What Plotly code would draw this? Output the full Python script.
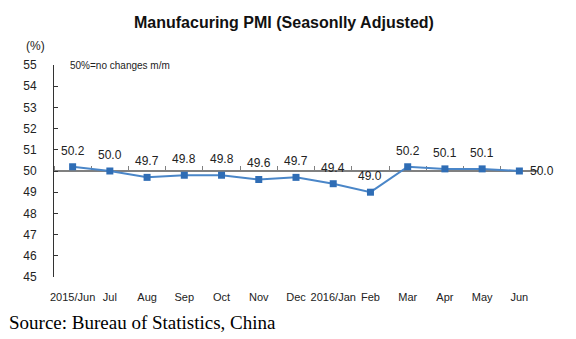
import plotly.graph_objects as go

categories = ["2015/Jun", "Jul", "Aug", "Sep", "Oct", "Nov", "Dec",
              "2016/Jan", "Feb", "Mar", "Apr", "May", "Jun"]
pmi = [50.2, 50.0, 49.7, 49.8, 49.8, 49.6, 49.7, 49.4, 49.0, 50.2, 50.1, 50.1, 50.0]
y_ticks = list(range(45, 56))

FONT = "Liberation Sans, Arial, sans-serif"

fig = go.Figure()
fig.add_trace(go.Scatter(
    x=categories, y=pmi, mode="lines+markers",
    line=dict(color="#4a86c8", width=2),
    marker=dict(symbol="square", size=7, color="#2f6db5"),
    showlegend=False, hoverinfo="skip", cliponaxis=False,
))

annotations = []
for i, (c, v) in enumerate(zip(categories, pmi)):
    last = i == len(categories) - 1
    annotations.append(dict(
        x=c, y=v, xref="x", yref="y", text=f"{v:.1f}", showarrow=False,
        xshift=23 if last else 0, yshift=0 if last else 16,
        font=dict(family=FONT, size=12, color="#222222"),
    ))

annotations += [
    dict(text="<b>Manufacuring PMI (Seasonlly Adjusted)</b>", x=284, y=22,
         xref="paper", yref="paper", showarrow=False, xanchor="center",
         font=dict(family=FONT, size=16, color="#111111")),
    dict(text="(%)", x=24, y=46, xref="paper", yref="paper",
         xanchor="left", showarrow=False,
         font=dict(family=FONT, size=12, color="#222222")),
    dict(text="50%=no changes m/m", x=68, y=65, xref="paper", yref="paper",
         xanchor="left", showarrow=False,
         font=dict(family=FONT, size=10, color="#222222")),
    dict(text="Source: Bureau of Statistics, China", x=7, y=322,
         xref="paper", yref="paper", xanchor="left", showarrow=False,
         font=dict(family="Liberation Serif, Times New Roman, serif", size=19, color="#000000")),
]

# convert pixel positions for the non-data annotations to paper coords
L, R, T, B, W, H = 54, 38, 65, 62, 576, 339
pw, ph = W - L - R, H - T - B
for a in annotations:
    if a["xref"] == "paper":
        a["x"] = (a["x"] - L) / pw
        a["y"] = (H - B - a["y"]) / ph
        a["yanchor"] = "middle"

n = len(categories)
fig.update_layout(
    width=W, height=H,
    margin=dict(l=L, r=R, t=T, b=B, autoexpand=False),
    paper_bgcolor="white", plot_bgcolor="white",
    annotations=annotations,
    xaxis=dict(
        type="category", range=[-0.5, n - 0.5], autorange=False,
        showline=False, showgrid=False, zeroline=False,
        ticks="", ticklabelstandoff=12, automargin=False,
        tickfont=dict(family=FONT, size=11, color="#222222"),
    ),
    xaxis2=dict(
        overlaying="x", matches="x", anchor="free", position=0.5, side="top",
        showline=True, linecolor="#808080", linewidth=2,
        ticks="outside", ticklen=4, tickcolor="#808080", tickwidth=1,
        tickson="boundaries", showticklabels=False, showgrid=False,
        layer="below traces", automargin=False,
    ),
    yaxis=dict(
        range=[45, 55], tickvals=y_ticks, showgrid=False, zeroline=False,
        showline=True, linecolor="#333333", linewidth=1,
        ticks="inside", ticklen=4, tickcolor="#333333",
        ticklabelstandoff=14, automargin=False,
        tickfont=dict(family=FONT, size=12, color="#222222"),
    ),
)

# an invisible trace so the overlaying axis is drawn
fig.add_trace(go.Scatter(x=categories, y=pmi, xaxis="x2", mode="lines",
                         line=dict(width=0), opacity=0, showlegend=False,
                         hoverinfo="skip"))
fig.data = (fig.data[1], fig.data[0])

fig.write_html("out.html")
